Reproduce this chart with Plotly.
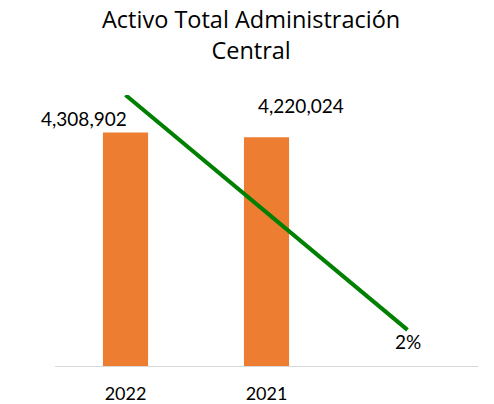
import plotly.graph_objects as go

# Data
years = ["2022", "2021"]
activo_total = [4308902, 4220024]
variacion = [0.15, 0.085, 0.02]  # trend series on secondary axis
title_lines = ["Activo Total Administración", "Central"]

BAR_COLOR = "#ED7D31"
LINE_COLOR = "#008000"
FONT = "Lato, 'Open Sans', sans-serif"
TITLE_FONT = "'Open Sans', Lato, sans-serif"

x_bars = list(range(len(years)))
x_line = list(range(len(variacion)))

fig = go.Figure()

fig.add_trace(go.Bar(
    x=x_bars, y=activo_total,
    marker=dict(color=BAR_COLOR, line=dict(width=0)),
    width=0.32, yaxis="y", showlegend=False,
))

fig.add_trace(go.Scatter(
    x=x_line, y=variacion, mode="lines",
    line=dict(color=LINE_COLOR, width=4),
    yaxis="y2", cliponaxis=False, showlegend=False,
))

# Value labels for the bars
label_offsets = [(-42, 14), (34, 32)]
for xi, v, (dx, dy) in zip(x_bars, activo_total, label_offsets):
    fig.add_annotation(
        x=xi, y=v, xref="x", yref="y", text=f"{v:,}", showarrow=False,
        xshift=dx, yshift=dy, font=dict(family=FONT, size=19, color="#000000"),
    )

# Label on the last point of the line
fig.add_annotation(
    x=x_line[-1], y=variacion[-1], xref="x", yref="y2",
    text=f"{variacion[-1]:.0%}", showarrow=False, yshift=-12,
    font=dict(family=FONT, size=19, color="#000000"),
)

# Chart title (two lines)
fig.add_annotation(
    x=0.463, xref="paper", y=1.222, yref="paper",
    xanchor="center", yanchor="middle", showarrow=False,
    text="<br>".join(title_lines),
    font=dict(family=TITLE_FONT, size=23.5, color="#000000"),
)

fig.update_layout(
    width=494, height=404,
    margin=dict(l=55, r=16, t=95, b=38),
    paper_bgcolor="white", plot_bgcolor="white",
    xaxis=dict(
        range=[-0.5, 2.5], tickvals=x_bars, ticktext=years,
        showgrid=False, zeroline=False, showline=True,
        linecolor="#D9D9D9", linewidth=1, ticks="",
        ticklabelstandoff=11, automargin=False,
        tickfont=dict(family=FONT, size=18, color="#000000"),
    ),
    yaxis=dict(
        range=[0, 5000000], showgrid=False, zeroline=False,
        showticklabels=False, showline=False,
    ),
    yaxis2=dict(
        range=[0, 0.15], overlaying="y", side="right",
        showgrid=False, zeroline=False, showticklabels=False, showline=False,
    ),
)

fig.write_html("out.html")
